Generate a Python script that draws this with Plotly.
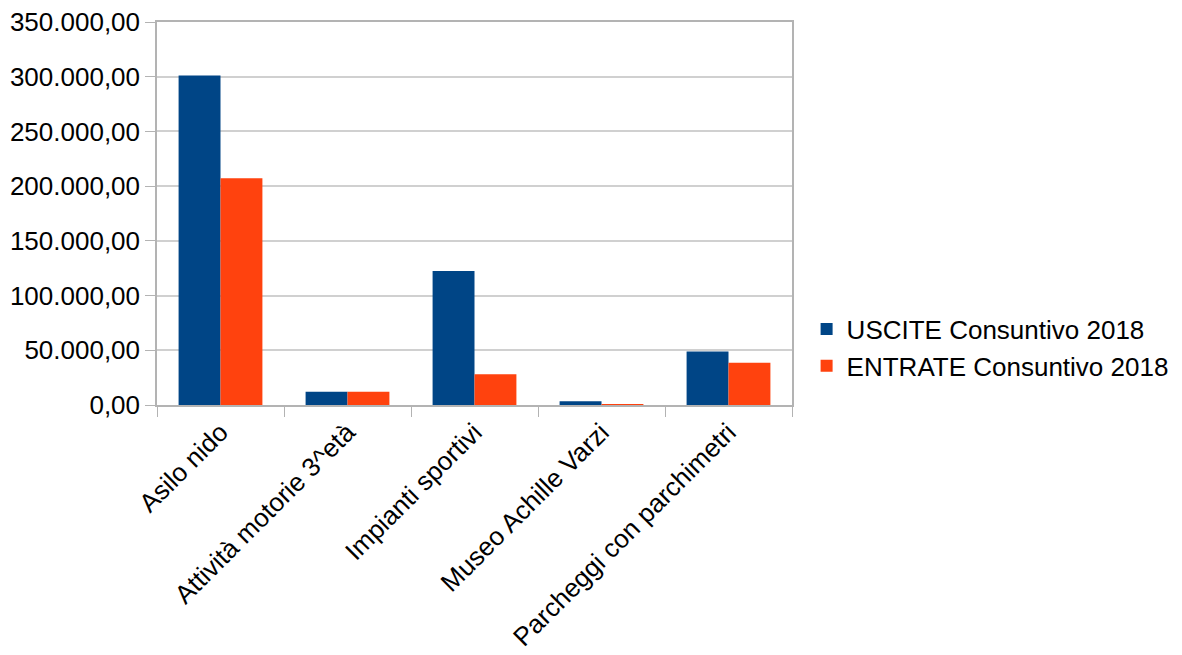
import plotly.graph_objects as go

categories = ["Asilo nido", "Attività motorie 3^età", "Impianti sportivi", "Museo Achille Varzi", "Parcheggi con parchimetri"]
uscite = [301000, 12100, 122500, 3400, 48800]
entrate = [207300, 12100, 28000, 600, 38600]
series_names = ["USCITE Consuntivo 2018", "ENTRATE Consuntivo 2018"]
y_ticks = [0, 50000, 100000, 150000, 200000, 250000, 300000, 350000]

fig = go.Figure()
fig.add_trace(go.Bar(x=categories, y=uscite, name=series_names[0], marker_color="#004586", marker_line_width=0))
fig.add_trace(go.Bar(x=categories, y=entrate, name=series_names[1], marker_color="#ff420e", marker_line_width=0))

fig.update_layout(
    width=1174, height=647,
    margin=dict(l=149, r=390, t=14, b=249.5, autoexpand=False),
    paper_bgcolor="white", plot_bgcolor="white",
    font=dict(family="Liberation Sans, Arial, sans-serif", size=26, color="#000000"),
    separators=",.",
    barmode="group", bargap=0.34, bargroupgap=0,
    legend=dict(x=1.023, y=0.15, xanchor="left", yanchor="middle", font=dict(size=26),
                itemwidth=30, tracegroupgap=0, bgcolor="rgba(0,0,0,0)"),
    showlegend=True,
)
fig.update_yaxes(range=[0, 350000], tickvals=y_ticks, tickformat=",.2f",
                 showgrid=True, gridcolor="#d0d0d0", gridwidth=1.5,
                 showline=True, linecolor="#b3b3b3", linewidth=1.5, mirror=True,
                 ticks="outside", ticklen=10, tickcolor="#b3b3b3", zeroline=False,
                 tickfont=dict(size=26), ticklabeloverflow="allow")
fig.update_xaxes(showline=True, linecolor="#b3b3b3", linewidth=1.5, mirror=True,
                 tickson="boundaries", ticks="outside", ticklen=10, tickcolor="#b3b3b3",
                 tickangle=-45, tickfont=dict(size=26), showgrid=False,
                 ticklabeloverflow="allow")

fig.write_html("out.html")
